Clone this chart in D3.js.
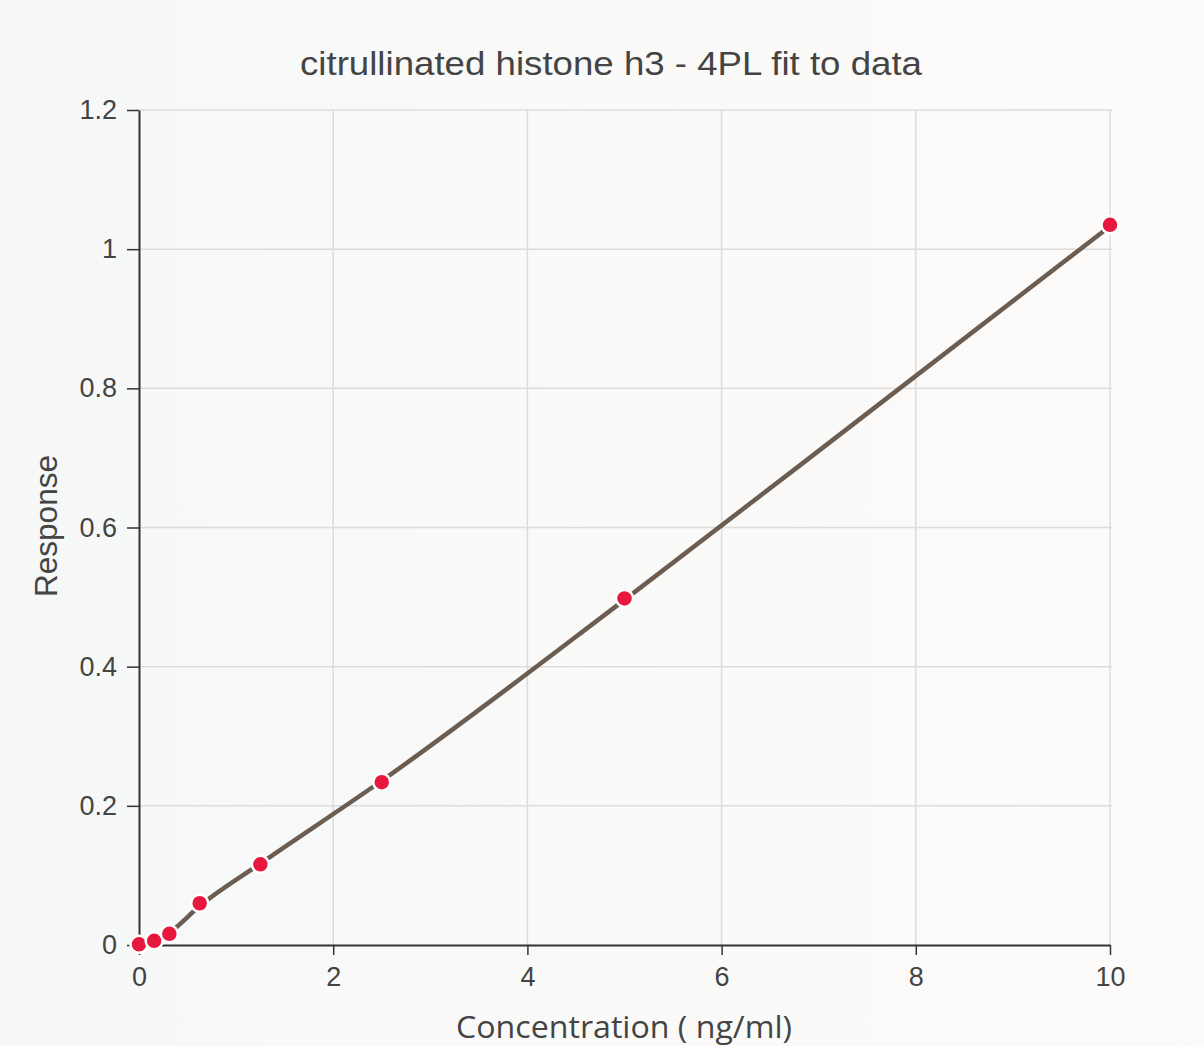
<!DOCTYPE html>
<html><head><meta charset="utf-8">
<script src="https://cdn.jsdelivr.net/npm/d3@7"></script>
<style>body{margin:0;background:#fafafa;} svg{display:block;}</style>
</head><body>
<svg id="chart" width="1204" height="1046"></svg>
<script>
const title = "citrullinated histone h3 - 4PL fit to data";
const xLabel = "Concentration ( ng/ml)";
const yLabel = "Response";
const concentrations = [0, 0.156, 0.3125, 0.625, 1.25, 2.5, 5, 10];
const responses = [0.001, 0.006, 0.016, 0.060, 0.116, 0.234, 0.498, 1.035];
const fitX = [0, 0.3125, 0.625, 1.25, 2.5, 5, 7.5, 10];
const fitY = [0.0, 0.018, 0.056, 0.117, 0.236, 0.496, 0.764, 1.033];
const xTicks = [0, 2, 4, 6, 8, 10];
const yTicks = [0, 0.2, 0.4, 0.6, 0.8, 1, 1.2];

const svg = d3.select("#chart");
const defs = svg.append("defs");
const g1 = defs.append("linearGradient").attr("id","bg").attr("x1","0").attr("x2","1").attr("y1","0").attr("y2","0");
g1.append("stop").attr("offset","0").attr("stop-color","#f6f8f8");
g1.append("stop").attr("offset","1").attr("stop-color","#fdfbf9");
svg.append("rect").attr("width",1204).attr("height",1046).attr("fill","url(#bg)");

const m = {left:139, right:1110, top:110, bottom:945};
const x = d3.scaleLinear().domain([0,10]).range([m.left, m.right]);
const y = d3.scaleLinear().domain([0,1.2]).range([m.bottom, m.top]);

// grid
svg.append("g").selectAll("line").data(xTicks.filter(d=>d>0)).join("line")
  .attr("x1",d=>x(d)).attr("x2",d=>x(d)).attr("y1",m.top).attr("y2",m.bottom)
  .attr("stroke","#dcdcdc").attr("stroke-width",1.5);
svg.append("g").selectAll("line").data(yTicks.filter(d=>d>0)).join("line")
  .attr("x1",m.left).attr("x2",m.right+2).attr("y1",d=>y(d)).attr("y2",d=>y(d))
  .attr("stroke","#dcdcdc").attr("stroke-width",1.5);

const font = "'Liberation Sans', Arial, sans-serif";
// axes
const xAxis = svg.append("g").attr("transform",`translate(0,${m.bottom})`)
  .call(d3.axisBottom(x).tickValues(xTicks).tickSize(10).tickSizeOuter(0).tickPadding(12).tickFormat(d3.format("d")));
const yAxis = svg.append("g").attr("transform",`translate(${m.left},0)`)
  .call(d3.axisLeft(y).tickValues(yTicks).tickSize(12).tickSizeOuter(0).tickPadding(10).tickFormat(d=>d3.format("")(+d.toFixed(1))));
[xAxis,yAxis].forEach(a=>{
  a.select(".domain").attr("stroke","#333").attr("stroke-width",2);
  a.selectAll(".tick line").attr("stroke","#333").attr("stroke-width",1.5);
  a.selectAll(".tick text").attr("fill","#444").attr("font-size",27).attr("font-family",font);
});

// fit line
svg.append("path").datum(fitX.map((d,i)=>[d,fitY[i]]))
  .attr("d", d3.line().x(d=>x(d[0])).y(d=>y(d[1])).curve(d3.curveMonotoneX))
  .attr("fill","none").attr("stroke","#6b5d52").attr("stroke-width",4.5);

// points
svg.append("g").selectAll("circle").data(concentrations.map((d,i)=>[d,responses[i]])).join("circle")
  .attr("cx",d=>x(d[0])).attr("cy",d=>y(d[1])).attr("r",8.5)
  .attr("fill","#e8173d").attr("stroke","#fff").attr("stroke-width",2.5);

// titles
svg.append("text").attr("x",611).attr("y",75).attr("text-anchor","middle")
  .attr("font-family",font).attr("font-size",33).attr("fill","#444")
  .attr("textLength",622).attr("lengthAdjust","spacingAndGlyphs").text(title);
svg.append("text").attr("x",624).attr("y",1038).attr("text-anchor","middle")
  .attr("font-family","'Open Sans', 'Noto Sans', sans-serif").attr("font-size",31).attr("fill","#444")
  .attr("textLength",336).attr("lengthAdjust","spacingAndGlyphs").text(xLabel);
svg.append("text").attr("transform","translate(57,526) rotate(-90)").attr("text-anchor","middle")
  .attr("font-family",font).attr("font-size",31).attr("fill","#444")
  .attr("textLength",142).attr("lengthAdjust","spacingAndGlyphs").text(yLabel);
</script>
</body></html>
